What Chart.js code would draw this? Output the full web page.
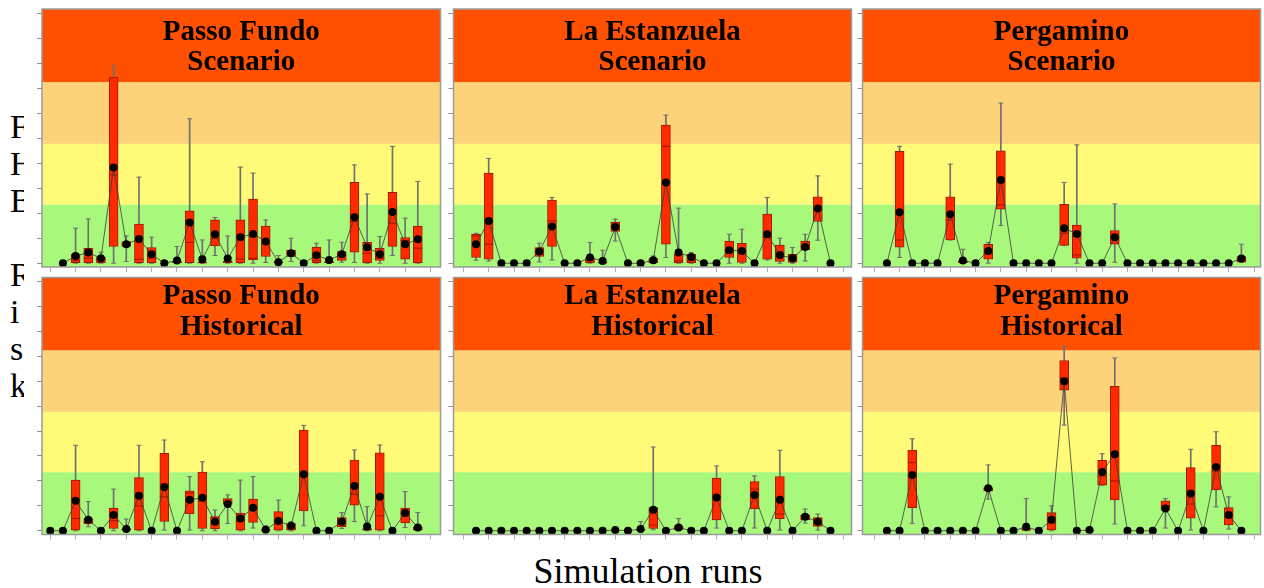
<!DOCTYPE html>
<html>
<head>
<meta charset="utf-8">
<script src="https://cdn.jsdelivr.net/npm/chart.js@4.4.1/dist/chart.umd.min.js"></script>
<style>
html, body { margin: 0; padding: 0; background: #fff; width: 1264px; height: 588px; overflow: hidden; position: relative; }
canvas { position: absolute; }
.ylab { position: absolute; left: 10px; top: 108px; font: 34px/37px "Liberation Serif", "Times New Roman", serif; color: #000; }
.xlab { position: absolute; left: 448px; top: 553px; width: 400px; text-align: center; font: 36px/36px "Liberation Serif", "Times New Roman", serif; color: #000; }
</style>
</head>
<body>
<div class="ylab">F<br>H<br>B<br>&nbsp;<br>R<br>i<br>s<br>k</div>
<div class="xlab">Simulation runs</div>
<script>
/* FHB risk per simulation run — box plots, 6 panels */

// simulation runs 0..29 (x positions)
const RUNS = [0,1,2,3,4,5,6,7,8,9,10,11,12,13,14,15,16,17,18,19,20,21,22,23,24,25,26,27,28,29];

// risk band limits: green | yellow | light orange | header
const BAND_LIMITS = [0.235, 0.477, 0.724];
const BAND_COLORS = ['#a8f87c', '#fffa78', '#fdd37a', '#ff5000'];

// each run: [min, q1, median, q3, max, mean]; null = run not shown
const pfScenario = [
    null,
    [0,0,0,0,0,0],
    [0,0,0.01,0.037,0.14,0.029],
    [0,0,0.02,0.06,0.177,0.043],
    [0,0,0.015,0.024,0.044,0.02],
    [0,0.067,0.353,0.744,0.789,0.383],
    [0.007,0.067,0.077,0.087,0.109,0.076],
    [0,0,0.016,0.157,0.344,0.097],
    [0,0,0.02,0.063,0.104,0.036],
    [0,0,0,0,0,0],
    [0,0,0.004,0.008,0.067,0.011],
    [0,0,0.083,0.209,0.577,0.163],
    [0,0,0.002,0.004,0.093,0.016],
    [0.031,0.069,0.1,0.173,0.183,0.116],
    [0,0,0.005,0.009,0.109,0.019],
    [0,0,0.017,0.173,0.384,0.104],
    [0,0.013,0.02,0.256,0.36,0.117],
    [0.003,0.027,0.08,0.149,0.173,0.087],
    [0,0,0.003,0.007,0.031,0.004],
    [0.007,0.027,0.04,0.053,0.1,0.04],
    [0,0,0,0,0,0],
    [0,0,0.01,0.064,0.08,0.032],
    [0,0,0.004,0.007,0.093,0.013],
    [0.004,0.011,0.03,0.047,0.084,0.036],
    [0.003,0.044,0.167,0.323,0.393,0.184],
    [0,0,0.04,0.084,0.277,0.064],
    [0,0.011,0.02,0.06,0.107,0.036],
    [0.031,0.067,0.16,0.283,0.467,0.205],
    [0,0.016,0.091,0.103,0.18,0.076],
    [0,0,0.06,0.149,0.327,0.096],
];

const leScenario = [
    null,
    [0.012,0.023,0.109,0.116,0.12,0.076],
    [0.009,0.016,0.076,0.36,0.419,0.169],
    [0,0,0,0,0,0],
    [0,0,0,0,0,0],
    [0,0,0,0,0,0],
    [0.005,0.027,0.045,0.063,0.08,0.047],
    [0.013,0.067,0.169,0.252,0.263,0.147],
    [0,0,0,0,0,0],
    [0,0,0,0,0,0],
    [0,0,0.01,0.023,0.083,0.023],
    [0,0,0.002,0.005,0.052,0.009],
    [0.089,0.127,0.145,0.165,0.176,0.145],
    [0,0,0,0,0,0],
    [0,0,0,0,0,0],
    [0,0,0.005,0.019,0.029,0.012],
    [0.023,0.076,0.467,0.552,0.592,0.323],
    [0,0,0.01,0.036,0.22,0.043],
    [0,0,0.01,0.036,0.043,0.025],
    [0,0,0,0,0,0],
    [0,0,0,0,0,0],
    [0,0.023,0.05,0.089,0.116,0.052],
    [0,0.003,0.049,0.08,0.136,0.049],
    [0,0,0,0,0,0],
    [0.013,0.016,0.103,0.196,0.263,0.116],
    [0,0.007,0.04,0.073,0.1,0.033],
    [0,0.003,0.015,0.036,0.063,0.02],
    [0.009,0.053,0.065,0.089,0.116,0.065],
    [0.092,0.167,0.216,0.265,0.349,0.219],
    [0,0,0,0,0,0],
];

const pgScenario = [
    null,
    [0,0,0,0,0,0],
    [0.023,0.064,0.093,0.447,0.467,0.204],
    [0,0,0,0,0,0],
    [0,0,0,0,0,0],
    [0,0,0,0,0,0],
    [0.093,0.093,0.173,0.265,0.396,0.196],
    [0,0,0.004,0.011,0.056,0.011],
    [0,0,0,0,0,0],
    [0,0.016,0.04,0.076,0.083,0.049],
    [0.151,0.216,0.233,0.449,0.64,0.333],
    [0,0,0,0,0,0],
    [0,0,0,0,0,0],
    [0,0,0,0,0,0],
    [0,0,0,0,0,0],
    [0.071,0.071,0.12,0.235,0.323,0.14],
    [0,0.02,0.033,0.153,0.473,0.117],
    [0,0,0,0,0,0],
    [0,0,0,0,0,0],
    [0.004,0.076,0.1,0.131,0.237,0.104],
    [0,0,0,0,0,0],
    [0,0,0,0,0,0],
    [0,0,0,0,0,0],
    [0,0,0,0,0,0],
    [0,0,0,0,0,0],
    [0,0,0,0,0,0],
    [0,0,0,0,0,0],
    [0,0,0,0,0,0],
    [0,0,0,0,0,0],
    [0.004,0.004,0.015,0.027,0.076,0.019],
];

const pfHistorical = [
    [0,0,0,0,0,0],
    [0,0,0,0,0,0],
    [0,0,0.049,0.203,0.343,0.12],
    [0.016,0.027,0.035,0.049,0.117,0.044],
    [0,0,0,0,0,0],
    [0,0.009,0.04,0.091,0.167,0.063],
    [0,0,0.004,0.009,0.047,0.007],
    [0,0,0.1,0.213,0.343,0.14],
    [0,0,0,0,0,0],
    [0.003,0.037,0.136,0.311,0.364,0.176],
    [0,0,0,0,0,0],
    [0.003,0.069,0.151,0.16,0.217,0.124],
    [0,0.009,0.12,0.235,0.277,0.132],
    [0,0.007,0.03,0.057,0.083,0.036],
    [0.029,0.107,0.115,0.129,0.144,0.107],
    [0,0,0.04,0.071,0.203,0.049],
    [0.011,0.033,0.09,0.127,0.217,0.092],
    [0,0,0,0.005,0.02,0.004],
    [0,0,0.04,0.077,0.123,0.039],
    [0,0,0.01,0.029,0.036,0.02],
    [0.02,0.08,0.227,0.404,0.423,0.227],
    [0,0,0,0,0,0],
    [0,0,0,0,0,0],
    [0.009,0.016,0.035,0.053,0.073,0.036],
    [0.037,0.103,0.147,0.284,0.324,0.18],
    [0,0,0.004,0.009,0.097,0.017],
    [0,0,0.06,0.313,0.344,0.136],
    [0,0,0,0,0,0],
    [0.013,0.031,0.07,0.091,0.157,0.071],
    [0,0,0.005,0.016,0.073,0.013],
];

const leHistorical = [
    null,
    [0,0,0,0,0,0],
    [0,0,0,0,0,0],
    [0,0,0,0,0,0],
    [0,0,0,0,0,0],
    [0,0,0,0,0,0],
    [0,0,0,0,0,0],
    [0,0,0,0,0,0],
    [0,0,0,0,0,0],
    [0,0,0,0,0,0],
    [0,0,0,0,0,0],
    [0,0,0,0,0,0],
    [0,0,0,0.002,0.004,0.003],
    [0,0,0,0,0,0],
    [0,0,0.003,0.007,0.037,0.007],
    [0.004,0.009,0.023,0.093,0.336,0.084],
    [0,0,0,0,0,0],
    [0,0.003,0.013,0.02,0.049,0.013],
    [0,0,0,0,0,0],
    [0,0,0,0,0,0],
    [0.011,0.043,0.136,0.211,0.26,0.133],
    [0,0,0,0,0,0],
    [0,0,0,0,0,0],
    [0.011,0.089,0.167,0.197,0.22,0.143],
    [0,0,0,0,0,0],
    [0.003,0.049,0.067,0.217,0.323,0.124],
    [0,0,0,0,0,0],
    [0.031,0.044,0.056,0.064,0.087,0.056],
    [0.003,0.017,0.03,0.053,0.067,0.036],
    [0,0,0,0,0,0],
];

const pgHistorical = [
    null,
    [0,0,0,0,0,0],
    [0,0,0,0,0,0],
    [0.029,0.093,0.273,0.324,0.369,0.224],
    [0,0,0,0,0,0],
    [0,0,0,0,0,0],
    [0,0,0,0,0,0],
    [0,0,0,0,0,0],
    [0,0,0,0,0,0],
    [0.127,0.16,0.168,0.173,0.264,0.171],
    [0,0,0,0,0,0],
    [0,0,0,0,0,0],
    [0,0,0.003,0.009,0.129,0.016],
    [0,0,0,0,0,0],
    [0,0.003,0.03,0.073,0.1,0.044],
    [0.424,0.564,0.613,0.683,0.74,0.6],
    [0,0,0,0,0,0],
    [0,0,0,0.001,0.003,0.003],
    [0.183,0.183,0.22,0.283,0.309,0.236],
    [0.027,0.124,0.2,0.579,0.693,0.307],
    [0,0,0,0,0,0],
    [0,0,0,0,0,0],
    [0,0,0,0,0,0],
    [0.011,0.083,0.1,0.12,0.129,0.089],
    [0,0,0,0,0,0],
    [0.003,0.051,0.107,0.253,0.327,0.149],
    [0,0,0,0,0,0],
    [0.096,0.164,0.24,0.343,0.397,0.256],
    [0.007,0.023,0.06,0.093,0.136,0.063],
    [0,0,0,0,0,0],
];

const PANELS = [
    { title: ['Passo Fundo', 'Scenario'],    data: pfScenario,   col: 0, row: 0 },
    { title: ['La Estanzuela', 'Scenario'],  data: leScenario,   col: 1, row: 0 },
    { title: ['Pergamino', 'Scenario'],      data: pgScenario,   col: 2, row: 0 },
    { title: ['Passo Fundo', 'Historical'],  data: pfHistorical, col: 0, row: 1 },
    { title: ['La Estanzuela', 'Historical'],data: leHistorical, col: 1, row: 1 },
    { title: ['Pergamino', 'Historical'],    data: pgHistorical, col: 2, row: 1 },
];

// layout (px)
const PLOT_W = 404, PLOT_H = 258, TICK = 5;
const PLOT_LEFT = [42, 453, 862];
const X_MIN = [-0.65, -0.78, -0.93];
const TITLE_BASE = [[31.4, 60.7], [26.7, 57.7]];

const bandsPlugin = {
    id: 'bands',
    beforeDraw(chart, args, opts) {
        const { ctx, chartArea: a, scales: { y } } = chart;
        const edges = [a.bottom, ...BAND_LIMITS.map(v => y.getPixelForValue(v)), a.top];
        ctx.save();
        BAND_COLORS.forEach((c, i) => {
            ctx.fillStyle = c;
            ctx.fillRect(a.left, edges[i + 1], a.right - a.left, edges[i] - edges[i + 1]);
        });
        ctx.fillStyle = '#000';
        ctx.font = 'bold 29px "Liberation Serif", "Times New Roman", serif';
        ctx.textAlign = 'center';
        ctx.textBaseline = 'alphabetic';
        const cx = (a.left + a.right) / 2;
        opts.title.forEach((t, i) => ctx.fillText(t, cx, a.top + opts.base[i]));
        ctx.restore();
    },
    afterDraw(chart) {
        const { ctx, chartArea: a } = chart;
        ctx.save();
        ctx.strokeStyle = '#9a9a9a';
        ctx.lineWidth = 1.5;
        ctx.strokeRect(a.left, a.top, a.right - a.left, a.bottom - a.top);
        ctx.restore();
    }
};

PANELS.forEach((p, k) => {
    const cv = document.createElement('canvas');
    const padLeft = p.col === 0 ? 13 : 0;
    const padTop = p.row === 0 ? 9 : 5;
    const padBottom = p.row === 0 ? 5 : 0;
    const w = padLeft + TICK + PLOT_W;
    const h = padTop + PLOT_H + TICK + padBottom;
    cv.width = w; cv.height = h;
    cv.style.width = w + 'px'; cv.style.height = h + 'px';
    cv.style.left = (PLOT_LEFT[p.col] - TICK - padLeft) + 'px';
    cv.style.top = (p.row === 0 ? 0 : 272) + 'px';
    if (p.col === 0) cv.style.background = '#fff';
    document.body.appendChild(cv);

    const runs = RUNS.map((r, i) => ({ x: r, v: p.data[i] })).filter(d => d.v);
    const boxes = runs.filter(d => d.v[4] > 0);

    new Chart(cv.getContext('2d'), {
        type: 'bar',
        data: {
            datasets: [
                {
                    type: 'line', label: 'Mean', order: 0,
                    data: runs.map(d => ({ x: d.x, y: d.v[5] })),
                    borderColor: '#3a3a3a', borderWidth: 0.8, tension: 0,
                    pointRadius: 4, pointBackgroundColor: '#000', pointBorderWidth: 0,
                },
                {
                    type: 'scatter', label: 'Median', order: 1,
                    data: boxes.map(d => ({ x: d.x, y: d.v[2] })),
                    pointStyle: 'line', pointRadius: 4.5, pointBorderColor: '#a01400', pointBorderWidth: 1,
                },
                {
                    type: 'bar', label: 'Box', order: 2, grouped: false,
                    data: boxes.map(d => ({ x: d.x, y: [d.v[1], d.v[3]] })),
                    barThickness: 9, backgroundColor: '#ff2a00', borderColor: '#9e1a00',
                    borderWidth: 1, borderSkipped: false,
                },
                {
                    type: 'scatter', label: 'Caps', order: 3,
                    data: boxes.flatMap(d => [{ x: d.x, y: d.v[0] }, { x: d.x, y: d.v[4] }]),
                    pointStyle: 'line', pointRadius: 2.5, pointBorderColor: '#707070', pointBorderWidth: 1,
                },
                {
                    type: 'bar', label: 'Whisker', order: 4, grouped: false,
                    data: boxes.map(d => ({ x: d.x, y: [d.v[0], d.v[4]] })),
                    barThickness: 1, backgroundColor: '#707070', borderWidth: 0,
                },
            ],
        },
        options: {
            responsive: false,
            animation: false,
            devicePixelRatio: 1,
            events: [],
            layout: { padding: { left: padLeft, top: padTop, bottom: padBottom, right: 0 } },
            plugins: {
                legend: { display: false },
                tooltip: { enabled: false },
                bands: { title: p.title, base: TITLE_BASE[p.row] },
            },
            scales: {
                x: {
                    type: 'linear', min: X_MIN[p.col], max: X_MIN[p.col] + 31.44,
                    offset: false,
                    ticks: { display: false, stepSize: 2, includeBounds: false },
                    grid: { offset: false, drawOnChartArea: false, tickLength: TICK, color: '#b0b0b0' },
                    border: { display: false },
                },
                y: {
                    type: 'linear', min: -0.015, max: 1.016,
                    ticks: { display: false, stepSize: 0.1, includeBounds: false },
                    grid: { drawOnChartArea: false, tickLength: TICK, color: '#909090' },
                    border: { display: false },
                },
            },
        },
        plugins: [bandsPlugin],
    });
});
</script>
</body>
</html>
